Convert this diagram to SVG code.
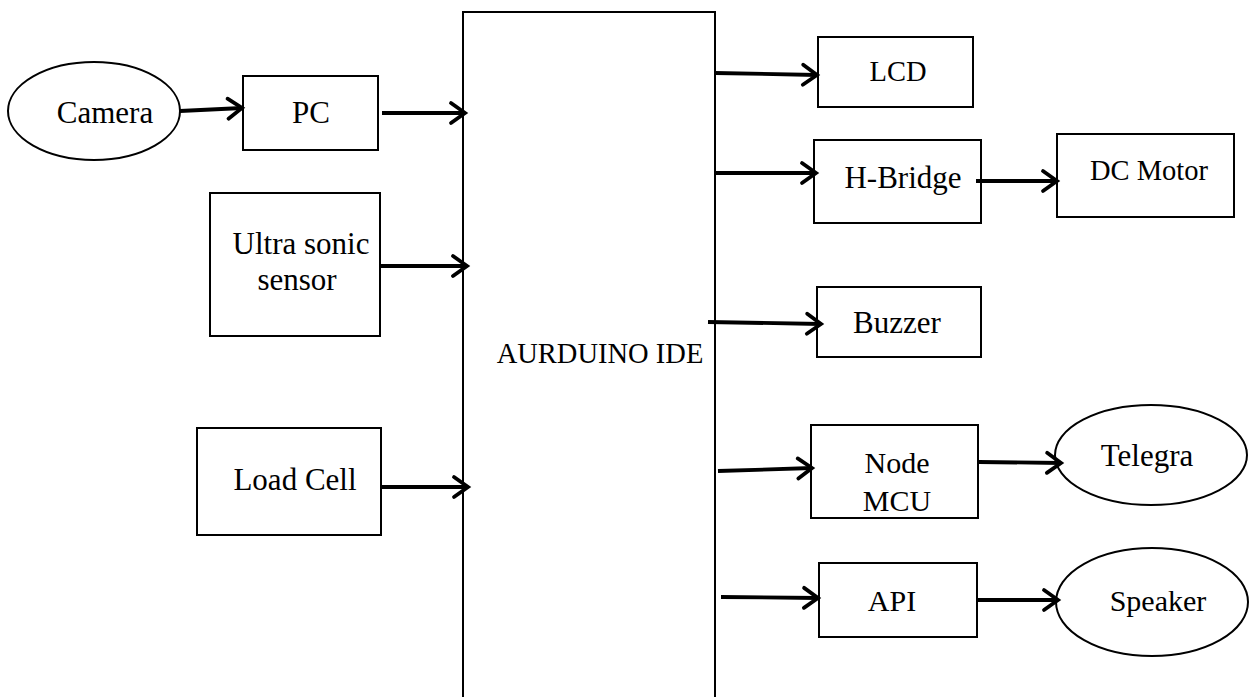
<svg xmlns="http://www.w3.org/2000/svg" width="1249" height="697" viewBox="0 0 1249 697">
<style>
.box{fill:#fff;stroke:#000;stroke-width:2}
.lbl{font-family:'Liberation Serif','DejaVu Serif',serif;font-size:30px;fill:#000;text-anchor:middle}
.lg{font-size:31px}
.sm{font-size:28.5px}
.arr{fill:none;stroke:#000;stroke-width:3.8;marker-end:url(#ah)}
</style>
<defs>
<marker id="ah" markerUnits="userSpaceOnUse" markerWidth="26" markerHeight="26" refX="16" refY="12" orient="auto" viewBox="0 0 26 24" overflow="visible">
<path d="M2,2 L16,12 L2,22" fill="none" stroke="#000" stroke-width="3.8" stroke-linecap="round" stroke-linejoin="miter"/>
</marker>
</defs>
<rect width="1249" height="697" fill="#fff"/>
<g id="arduino">
<path class="box" d="M463,700 L463,12 L715,12 L715,700"/>
<text class="lbl sm" x="600" y="363">AURDUINO IDE</text>
</g>
<g id="camera">
<ellipse class="box" cx="94" cy="111" rx="86" ry="49"/>
<text class="lbl lg" x="105" y="123">Camera</text>
</g>
<g id="pc">
<rect class="box" x="243" y="76" width="135" height="74"/>
<text class="lbl lg" x="311" y="123">PC</text>
</g>
<g id="ultrasonic">
<rect class="box" x="210" y="193" width="170" height="143"/>
<text class="lbl lg" x="301" y="254">Ultra sonic</text>
<text class="lbl lg" x="297" y="290">sensor</text>
</g>
<g id="loadcell">
<rect class="box" x="197" y="428" width="184" height="107"/>
<text class="lbl lg" x="295" y="490">Load Cell</text>
</g>
<g id="lcd">
<rect class="box" x="818" y="37" width="155" height="70"/>
<text class="lbl sm" x="898" y="81">LCD</text>
</g>
<g id="hbridge">
<rect class="box" x="814" y="140" width="167" height="83"/>
<text class="lbl lg" x="903" y="188">H-Bridge</text>
</g>
<g id="dcmotor">
<rect class="box" x="1057" y="134" width="177" height="83"/>
<text class="lbl sm" x="1149" y="180">DC Motor</text>
</g>
<g id="buzzer">
<rect class="box" x="817" y="287" width="164" height="70"/>
<text class="lbl lg" x="897" y="333">Buzzer</text>
</g>
<g id="nodemcu">
<rect class="box" x="811" y="425" width="167" height="93"/>
<text class="lbl" x="897" y="473">Node</text>
<text class="lbl" x="897" y="511">MCU</text>
</g>
<g id="telegra">
<ellipse class="box" cx="1151" cy="455" rx="96" ry="50"/>
<text class="lbl lg" x="1147" y="466">Telegra</text>
</g>
<g id="api">
<rect class="box" x="819" y="563" width="158" height="74"/>
<text class="lbl" x="892" y="611">API</text>
</g>
<g id="speaker">
<ellipse class="box" cx="1152" cy="602" rx="96" ry="54"/>
<text class="lbl" x="1158" y="611">Speaker</text>
</g>
<g id="connectors">
<path class="arr" d="M180,111 L242,108"/>
<path class="arr" d="M382,113 L465,113"/>
<path class="arr" d="M380,266 L467,266"/>
<path class="arr" d="M381,487 L468,487"/>
<path class="arr" d="M715,73 L817,75"/>
<path class="arr" d="M715,173 L816,173"/>
<path class="arr" d="M976,181 L1057,181"/>
<path class="arr" d="M708,322 L821,324"/>
<path class="arr" d="M718,471 L812,468"/>
<path class="arr" d="M979,462 L1061,463"/>
<path class="arr" d="M721,597 L818,598"/>
<path class="arr" d="M977,600 L1058,600"/>
</g>
</svg>
